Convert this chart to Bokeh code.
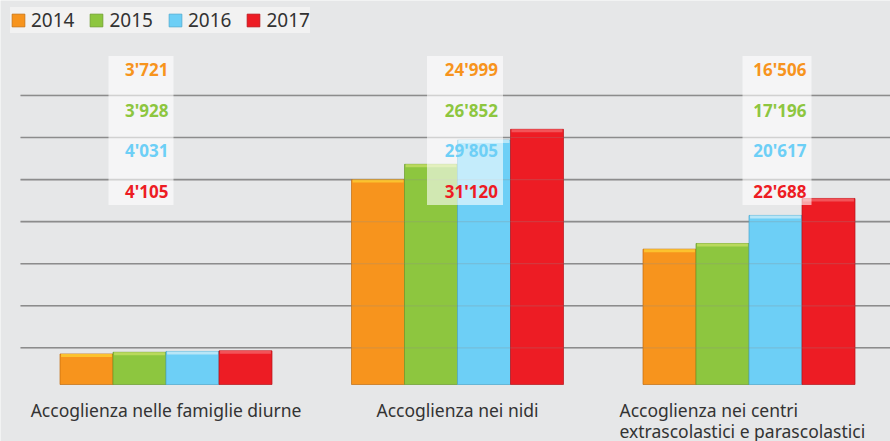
from bokeh.plotting import figure
from bokeh.models import Range1d, Legend, LegendItem
from bokeh.core.properties import value
from bokeh.embed import file_html
from bokeh.resources import INLINE

# ---------------- data ----------------
categories = [
    "Accoglienza nelle famiglie diurne",
    "Accoglienza nei nidi",
    "Accoglienza nei centri\nextrascolastici e parascolastici",
]
years = ["2014", "2015", "2016", "2017"]
v2014 = [3721, 24999, 16506]
v2015 = [3928, 26852, 17196]
v2016 = [4031, 29805, 20617]
v2017 = [4105, 31120, 22688]
series = [v2014, v2015, v2016, v2017]
grid_values = [4475, 9600, 14730, 19860, 24990, 30120, 35250]

# ---------------- style ----------------
W, H = 890, 441
BG = "#e6e7e8"
colors = ["#f7941d", "#8dc63f", "#6dcff6", "#ed1c24"]
tops = ["#fcc22e", "#b9d95c", "#b8e6f7", "#f25358"]
edges = ["#c06d10", "#6a9a2c", "#4aa7cc", "#b5141a"]
FONT = "Noto Sans"

GROUP_PX = 291.5      # pixel distance between group centres
FIRST_PX = 165.5      # pixel x of first group centre
BASE_PX = 384.0       # pixel y of the baseline
PX_PER_UNIT = 8.2 / 1000.0
BAR_PX = 53.0

x_start = -FIRST_PX / GROUP_PX
x_end = (W - FIRST_PX) / GROUP_PX
y_end = BASE_PX / PX_PER_UNIT
y_start = -(H - BASE_PX) / PX_PER_UNIT


def px_x(px):
    return (px - FIRST_PX) / GROUP_PX


def px_y(py):
    return (BASE_PX - py) / PX_PER_UNIT


p = figure(width=W, height=H, x_range=Range1d(x_start, x_end),
           y_range=Range1d(y_start, y_end), output_backend="svg",
           toolbar_location=None, min_border=0,
           x_axis_location=None, y_axis_location=None,
           background_fill_color=BG, border_fill_color=BG,
           outline_line_color=None)
p.grid.visible = False

gx0 = [px_x(20)] * len(grid_values)
gx1 = [x_end] * len(grid_values)
p.segment(x0=gx0, x1=gx1, y0=grid_values, y1=grid_values,
          line_color="#8d8d8d", line_width=1.6)

groups = list(range(len(categories)))
bar_w = BAR_PX / GROUP_PX
strip = 3.0 / PX_PER_UNIT
items = []
for i, (vals, yr) in enumerate(zip(series, years)):
    xs = [g + (i - 1.5) * bar_w for g in groups]
    r = p.vbar(x=xs, top=vals, bottom=0, width=bar_w, fill_color=colors[i],
               line_color=edges[i], line_width=1, line_alpha=0.7)
    p.vbar(x=xs, top=vals, bottom=[v - strip for v in vals], width=bar_w * 0.96,
           fill_color=tops[i], line_color=None)
    items.append(LegendItem(label=yr, renderers=[r]))

# faint grid over bars
p.segment(x0=gx0, x1=gx1, y0=grid_values, y1=grid_values,
          line_color="#8d8d8d", line_width=1.2, line_alpha=0.25)

# value label boxes
box_dx = [-25.0, 7.5, 28.0]
box_w = [65, 76, 69]
p.rect(x=[g + d / GROUP_PX for g, d in zip(groups, box_dx)],
       y=[px_y(130)] * 3, width=box_w, height=[149] * 3,
       width_units="screen", height_units="screen",
       fill_color="white", fill_alpha=0.6, line_color=None)

label_dx = [2.5, 40.5, 57.5]
row_y = [69, 110, 150, 191]
for i, vals in enumerate(series):
    txt = [f"{v:,}".replace(",", "'") for v in vals]
    p.text(x=[g + d / GROUP_PX for g, d in zip(groups, label_dx)],
           y=[px_y(row_y[i])] * 3, text=txt, text_align="right",
           text_baseline="middle", text_color=colors[i],
           text_font=value(FONT), text_font_style="bold",
           text_font_size="17px")

# category labels
cat_align = ["center", "center", "left"]
cat_dx = [0, 0, -129.5]
for g, cat in enumerate(categories):
    for j, line in enumerate(cat.split("\n")):
        p.text(x=[g], y=[px_y(409 + 21 * j)], text=[line],
               text_align=cat_align[g], x_offset=cat_dx[g],
               text_baseline="middle", text_color="#333333",
               text_font=value(FONT), text_font_size="17.5px")

legend = Legend(items=items, orientation="horizontal", location=(10, 408),
                background_fill_color="#f2f2f2", background_fill_alpha=1,
                border_line_color=None, padding=3, margin=0, spacing=14,
                glyph_width=16, glyph_height=16, label_standoff=5,
                label_text_font=FONT, label_text_font_size="19px",
                label_text_color="#333333", label_height=18)
p.add_layout(legend, "center")

open("out.html", "w").write(file_html(p, INLINE))
